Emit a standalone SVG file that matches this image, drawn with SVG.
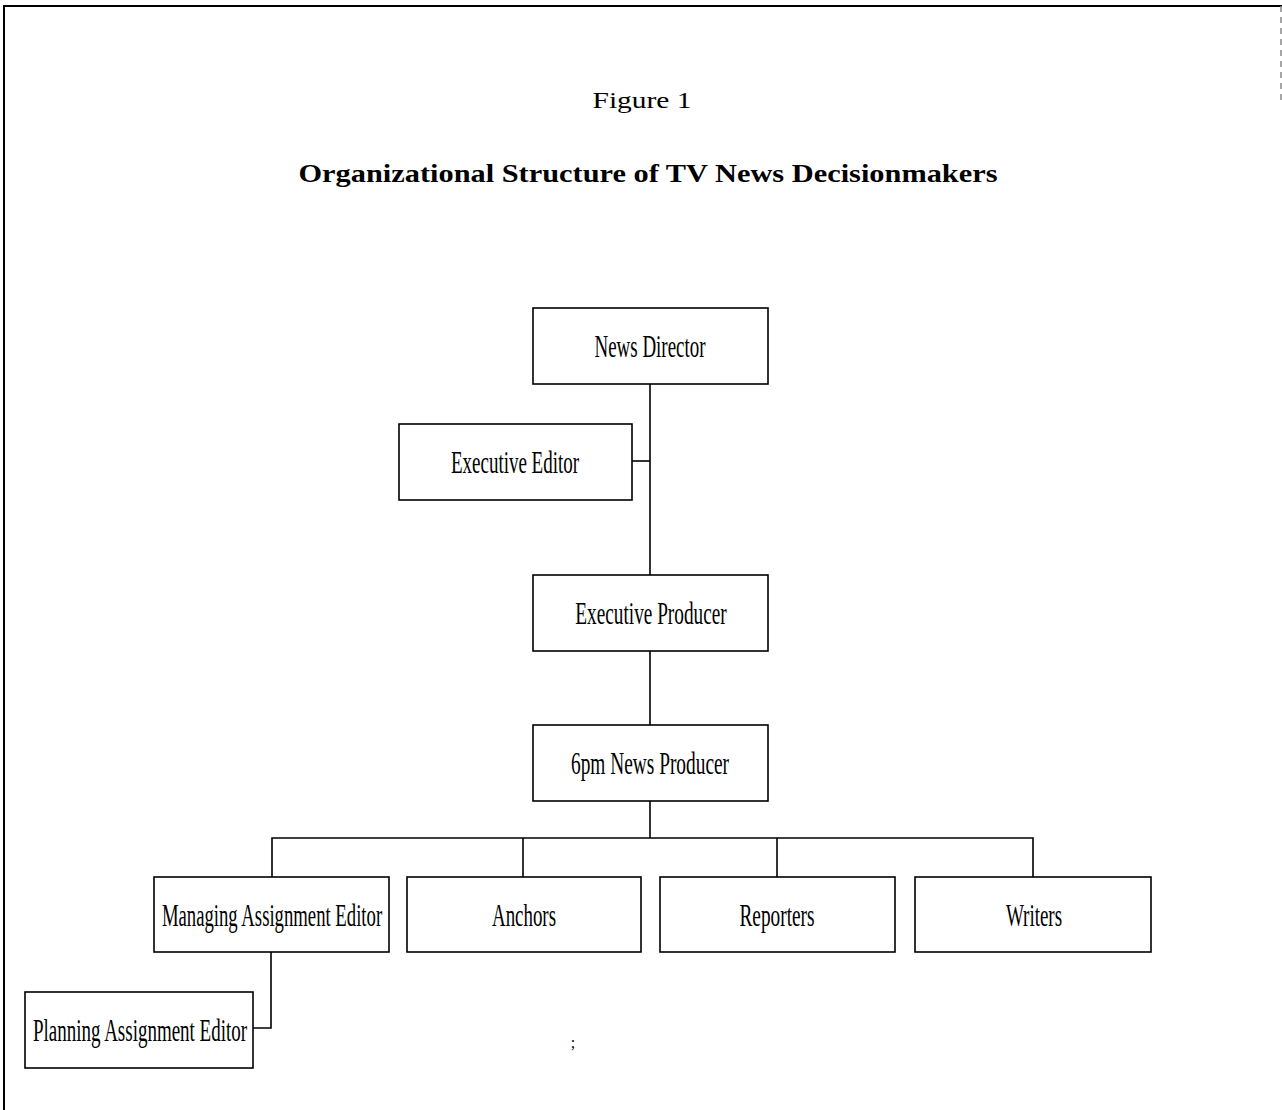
<svg xmlns="http://www.w3.org/2000/svg" width="1282" height="1110" viewBox="0 0 1282 1110">
<style>
.box{fill:#fff;stroke:#000;stroke-width:1.6}
.lbl{font-family:"Liberation Serif","Times New Roman",serif;font-size:31px;fill:#000;text-anchor:middle}
.con{fill:none;stroke:#000;stroke-width:1.6}
.frame{fill:none;stroke:#000;stroke-width:2}
</style>
<rect width="1282" height="1110" fill="#fff"/>
<g id="frame">
<path class="frame" d="M4 1110 V6 H1282"/>
<path d="M1281 6 V100" stroke="#888" stroke-width="1.5" stroke-dasharray="6 5" fill="none"/>
</g>
<g id="title">
<text x="642" y="108" font-family="Liberation Serif, serif" font-size="24" text-anchor="middle" textLength="99" lengthAdjust="spacingAndGlyphs">Figure 1</text>
<text x="648" y="182" font-family="Liberation Serif, serif" font-size="25" font-weight="bold" text-anchor="middle" textLength="699" lengthAdjust="spacingAndGlyphs">Organizational Structure of TV News Decisionmakers</text>
</g>
<g id="connectors">
<path class="con" d="M650 384 V725"/>
<path class="con" d="M632 461 H650"/>
<path class="con" d="M650 801 V838"/>
<path class="con" d="M272 877 V838 H1033 V877"/>
<path class="con" d="M523 838 V877"/>
<path class="con" d="M777 838 V877"/>
<path class="con" d="M271 952 V1028 H253"/>
</g>
<g id="news-director">
<rect class="box" x="533" y="308" width="235" height="76"/>
<text class="lbl" transform="translate(650 357) scale(0.61 1)" textLength="182" lengthAdjust="spacingAndGlyphs">News Director</text>
</g>
<g id="executive-editor">
<rect class="box" x="399" y="424" width="233" height="76"/>
<text class="lbl" transform="translate(515 473) scale(0.61 1)" textLength="210" lengthAdjust="spacingAndGlyphs">Executive Editor</text>
</g>
<g id="executive-producer">
<rect class="box" x="533" y="575" width="235" height="76"/>
<text class="lbl" transform="translate(651 624) scale(0.61 1)" textLength="248" lengthAdjust="spacingAndGlyphs">Executive Producer</text>
</g>
<g id="news-producer-6pm">
<rect class="box" x="533" y="725" width="235" height="76"/>
<text class="lbl" transform="translate(650 774) scale(0.61 1)" textLength="259" lengthAdjust="spacingAndGlyphs">6pm News Producer</text>
</g>
<g id="managing-assignment-editor">
<rect class="box" x="154" y="877" width="235" height="75"/>
<text class="lbl" transform="translate(272 926) scale(0.61 1)" textLength="361" lengthAdjust="spacingAndGlyphs">Managing Assignment Editor</text>
</g>
<g id="anchors">
<rect class="box" x="407" y="877" width="234" height="75"/>
<text class="lbl" transform="translate(524 926) scale(0.61 1)" textLength="105" lengthAdjust="spacingAndGlyphs">Anchors</text>
</g>
<g id="reporters">
<rect class="box" x="660" y="877" width="235" height="75"/>
<text class="lbl" transform="translate(777 926) scale(0.61 1)" textLength="123" lengthAdjust="spacingAndGlyphs">Reporters</text>
</g>
<g id="writers">
<rect class="box" x="915" y="877" width="236" height="75"/>
<text class="lbl" transform="translate(1034 926) scale(0.61 1)" textLength="92" lengthAdjust="spacingAndGlyphs">Writers</text>
</g>
<g id="planning-assignment-editor">
<rect class="box" x="25" y="992" width="228" height="76"/>
<text class="lbl" transform="translate(140 1041) scale(0.61 1)" textLength="351" lengthAdjust="spacingAndGlyphs">Planning Assignment Editor</text>
</g>
<text x="573" y="1048" font-family="Liberation Serif, serif" font-size="16" text-anchor="middle">;</text>
</svg>
